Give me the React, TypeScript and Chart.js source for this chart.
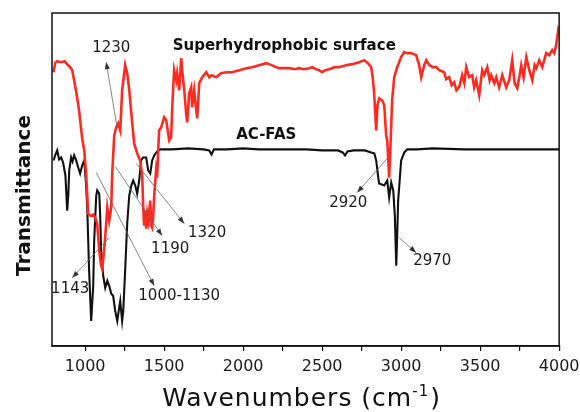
import React, { useEffect, useRef } from "react";
import { Chart, registerables } from "chart.js";

Chart.register(...registerables);

const FONT = '"DejaVu Sans", "Liberation Sans", Arial, sans-serif';

// x-axis ticks (wavenumbers, cm-1)
const xTicks = [1000, 1250, 1500, 1750, 2000, 2250, 2500, 2750, 3000, 3250, 3500, 3750, 4000];
const xLabelled = [1000, 1500, 2000, 2500, 3000, 3500, 4000];

// Superhydrophobic surface (red)
const redWavenumbers = [
  800, 810, 823, 848, 870, 886, 905, 918, 930, 949, 962, 981, 994, 1006, 1019, 1032, 1051, 1064, 1076, 1089,
  1101, 1108, 1120, 1133, 1140, 1152, 1165, 1171, 1184, 1196, 1209, 1222, 1234, 1253, 1266, 1279, 1298, 1310,
  1329, 1348, 1361, 1367, 1373, 1380, 1386, 1393, 1400, 1412, 1418, 1424, 1430, 1437, 1449, 1455, 1468, 1481,
  1500, 1513, 1532, 1544, 1551, 1563, 1576, 1582, 1595, 1608, 1614, 1627, 1639, 1646, 1658, 1671, 1677, 1690,
  1703, 1709, 1722, 1741, 1766, 1785, 1800, 1829, 1860, 1893, 1930, 1975, 2020, 2057, 2101, 2146, 2180, 2209,
  2228, 2260, 2291, 2330, 2355, 2380, 2418, 2437, 2460, 2481, 2500, 2520, 2544, 2580, 2608, 2630, 2652, 2690,
  2734, 2766, 2790, 2810, 2820, 2829, 2842, 2850, 2861, 2880, 2893, 2905, 2912, 2924, 2935, 2943, 2956, 2975,
  3000, 3019, 3038, 3064, 3095, 3114, 3127, 3146, 3159, 3178, 3200, 3222, 3241, 3272, 3285, 3304, 3320, 3336,
  3350, 3367, 3386, 3400, 3412, 3431, 3450, 3462, 3475, 3494, 3513, 3525, 3545, 3560, 3570, 3590, 3602, 3620,
  3640, 3665, 3684, 3703, 3718, 3735, 3750, 3760, 3775, 3792, 3811, 3830, 3845, 3855, 3874, 3893, 3918, 3937,
  3956, 3969, 3981, 3994, 4000,
];
const redTransmittance = [
  273, 282, 284, 283, 284, 281, 278, 275, 265, 248, 234, 207, 195, 172, 132, 130, 131, 128, 122, 95,
  80, 77, 95, 122, 138, 125, 138, 172, 210, 218, 222, 215, 255, 280, 272, 255, 222, 202,
  192, 185, 170, 140, 120, 135, 117, 132, 125, 145, 120, 118, 128, 150, 175, 168, 215, 218,
  228, 225, 205, 208, 238, 275, 265, 272, 255, 287, 275, 255, 232, 223, 252, 258, 238, 255,
  235, 227, 262, 268, 273, 268, 270, 268, 272, 273, 273, 275, 277, 278, 280, 282, 280, 278,
  277, 277, 277, 276, 277, 276, 277, 278, 276, 275, 273, 275, 276, 278, 278, 279, 280, 281,
  283, 285, 282, 278, 268, 252, 215, 240, 247, 245, 240, 210, 205, 168, 210, 245, 268, 278,
  288, 293, 292, 292, 290, 280, 268, 280, 285, 280, 278, 278, 275, 273, 266, 268, 260, 263,
  255, 258, 270, 262, 278, 268, 270, 258, 265, 250, 275, 270, 278, 265, 270, 262, 268, 258,
  270, 258, 265, 285, 262, 257, 270, 280, 268, 288, 275, 265, 280, 277, 285, 278, 292, 290,
  295, 292, 300, 315, 312,
];

// AC-FAS (black)
const blackWavenumbers = [
  800, 810, 823, 835, 848, 860, 875, 886, 893, 899, 911, 920, 930, 943, 956, 968, 981, 994, 1006, 1013,
  1025, 1038, 1051, 1057, 1070, 1076, 1089, 1095, 1101, 1114, 1127, 1140, 1152, 1165, 1177, 1190, 1203, 1215,
  1222, 1234, 1241, 1253, 1266, 1279, 1292, 1304, 1317, 1329, 1342, 1354, 1367, 1386, 1399, 1412, 1424, 1437,
  1455, 1475, 1550, 1650, 1750, 1785, 1800, 1815, 1900, 2000, 2100, 2200, 2300, 2400, 2500, 2600, 2630, 2645,
  2660, 2700, 2770, 2810, 2830, 2842, 2855, 2861, 2893, 2912, 2924, 2937, 2950, 2960, 2969, 2975, 2981, 3000,
  3020, 3038, 3100, 3200, 3400, 3600, 3800, 4000,
];
const blackTransmittance = [
  185, 190, 195, 186, 188, 183, 170, 135, 150, 175, 188, 184, 190, 185, 178, 172, 180, 185, 160, 138,
  75, 25, 60, 105, 150, 155, 152, 130, 95, 70, 58, 65, 60, 52, 50, 35, 25, 38,
  45, 25, 35, 75, 122, 150, 160, 165, 160, 152, 165, 185, 188, 188, 175, 172, 185, 190,
  194, 196, 196, 197, 196, 195, 191, 196, 196, 197, 196, 196, 196, 196, 195, 195, 193, 190,
  194, 195, 195, 193, 192, 185, 168, 162, 160, 165, 148, 163, 155, 130, 80, 110, 145, 185,
  193, 196, 196, 197, 196, 196, 196, 196,
];

// Peak annotations (positions in data units: wavenumber, transmittance)
const annotationLabels = ["1230", "1143", "1000-1130", "1190", "1320", "2920", "2970"];
const annotationTextX = [1165, 905, 1595, 1538, 1772, 2665, 3197];
const annotationTextY = [297, 57, 50, 97, 113, 142, 85];
const arrowFromX = [1203, 1152, 1070, 1190, 1323, 2912, 2988];
const arrowFromY = [217, 108, 173, 179, 182, 187, 108];
const arrowToX = [1133, 918, 1437, 1487, 1627, 2722, 3095];
const arrowToY = [283, 68, 60, 110, 122, 153, 93];

// Series name labels
const seriesNames = ["Superhydrophobic surface", "AC-FAS"];
const seriesNameX = [2260, 2146];
const seriesNameY = [299, 210];

const seriesColors = ["#ff2a1f", "#111111"];

const overlayPlugin = {
  id: "overlay",
  afterDatasetsDraw(chart: any) {
    const { ctx, chartArea: a, scales } = chart;
    const sx = scales.x;
    const sy = scales.y;
    ctx.save();
    // frame
    ctx.strokeStyle = "#111";
    ctx.lineWidth = 1.5;
    ctx.strokeRect(a.left, a.top, a.right - a.left, a.bottom - a.top);

    // arrows
    for (let i = 0; i < annotationLabels.length; i++) {
      const x1 = sx.getPixelForValue(arrowFromX[i]);
      const y1 = sy.getPixelForValue(arrowFromY[i]);
      const x2 = sx.getPixelForValue(arrowToX[i]);
      const y2 = sy.getPixelForValue(arrowToY[i]);
      ctx.strokeStyle = "#666";
      ctx.lineWidth = 0.8;
      ctx.beginPath();
      ctx.moveTo(x1, y1);
      ctx.lineTo(x2, y2);
      ctx.stroke();
      const ang = Math.atan2(y2 - y1, x2 - x1);
      const len = 7;
      const hw = 2.6;
      ctx.fillStyle = "#333";
      ctx.beginPath();
      ctx.moveTo(x2, y2);
      ctx.lineTo(x2 - len * Math.cos(ang) + hw * Math.sin(ang), y2 - len * Math.sin(ang) - hw * Math.cos(ang));
      ctx.lineTo(x2 - len * Math.cos(ang) - hw * Math.sin(ang), y2 - len * Math.sin(ang) + hw * Math.cos(ang));
      ctx.closePath();
      ctx.fill();
    }

    // annotation texts
    ctx.fillStyle = "#1a1a1a";
    ctx.font = `15px ${FONT}`;
    ctx.textAlign = "center";
    ctx.textBaseline = "middle";
    for (let i = 0; i < annotationLabels.length; i++) {
      ctx.fillText(annotationLabels[i], sx.getPixelForValue(annotationTextX[i]), sy.getPixelForValue(annotationTextY[i]));
    }

    // series names
    ctx.font = `bold 15px ${FONT}`;
    ctx.fillStyle = "#111";
    for (let i = 0; i < seriesNames.length; i++) {
      ctx.fillText(seriesNames[i], sx.getPixelForValue(seriesNameX[i]), sy.getPixelForValue(seriesNameY[i]));
    }
    ctx.restore();
  },
  afterDraw(chart: any) {
    const { ctx, chartArea: a } = chart;
    ctx.save();
    ctx.fillStyle = "#111";
    // x title with superscript
    const main = "Wavenumbers (cm";
    const sup = "-1";
    const close = ")";
    (ctx as any).letterSpacing = "1px";
    ctx.font = `25px ${FONT}`;
    const wMain = ctx.measureText(main).width;
    const wClose = ctx.measureText(close).width;
    ctx.font = `15px ${FONT}`;
    const wSup = ctx.measureText(sup).width;
    const total = wMain + wSup + wClose + 1;
    const cx = (a.left + a.right) / 2 - 4;
    const base = a.bottom + 60;
    let xx = cx - total / 2;
    ctx.textAlign = "left";
    ctx.textBaseline = "alphabetic";
    ctx.font = `25px ${FONT}`;
    ctx.fillText(main, xx, base);
    xx += wMain;
    ctx.font = `15px ${FONT}`;
    ctx.fillText(sup, xx, base - 10);
    xx += wSup + 1;
    ctx.font = `25px ${FONT}`;
    ctx.fillText(close, xx, base);
    (ctx as any).letterSpacing = "0px";

    // y title
    ctx.translate(a.left - 22, (a.top + a.bottom) / 2 + 16);
    ctx.rotate(-Math.PI / 2);
    ctx.textAlign = "center";
    ctx.font = `bold 20px ${FONT}`;
    ctx.fillText("Transmittance", 0, 0);
    ctx.restore();
  },
};

export default function App() {
  const canvasRef = useRef<HTMLCanvasElement | null>(null);

  useEffect(() => {
    if (!canvasRef.current) return;
    const chart = new Chart(canvasRef.current, {
      type: "line",
      data: {
        datasets: [
          {
            label: seriesNames[0],
            data: redWavenumbers.map((w, i) => ({ x: w, y: redTransmittance[i] })),
            borderColor: seriesColors[0],
            borderWidth: 2.6,
            pointRadius: 0,
            tension: 0,
            fill: false,
          },
          {
            label: seriesNames[1],
            data: blackWavenumbers.map((w, i) => ({ x: w, y: blackTransmittance[i] })),
            borderColor: seriesColors[1],
            borderWidth: 2.1,
            pointRadius: 0,
            tension: 0,
            fill: false,
          },
        ],
      },
      options: {
        animation: false,
        responsive: true,
        maintainAspectRatio: false,
        layout: { padding: { left: 52, right: 17, top: 13, bottom: 30 } },
        plugins: { legend: { display: false }, tooltip: { enabled: false } },
        scales: {
          x: {
            type: "linear",
            min: 790,
            max: 4000,
            afterBuildTicks: (scale: any) => {
              scale.ticks = xTicks.map((v) => ({ value: v }));
            },
            ticks: {
              autoSkip: false,
              maxRotation: 0,
              padding: 0.5,
              color: "#1a1a1a",
              font: { family: FONT, size: 16, lineHeight: 1.875 },
              callback: (v: any) => (xLabelled.includes(Number(v)) ? String(v) : ""),
            },
            grid: {
              display: true,
              drawOnChartArea: false,
              drawTicks: true,
              tickLength: 5,
              color: "#111",
              lineWidth: 1.2,
            },
            border: { display: true, color: "#111", width: 1.5 },
          },
          y: {
            display: false,
            min: 0,
            max: 332,
          },
        },
      },
      plugins: [overlayPlugin],
    });
    return () => chart.destroy();
  }, []);

  return (
    <div style={{ position: "fixed", left: 0, top: 0, width: 580, height: 412, background: "#fff" }}>
      <canvas ref={canvasRef} />
    </div>
  );
}
